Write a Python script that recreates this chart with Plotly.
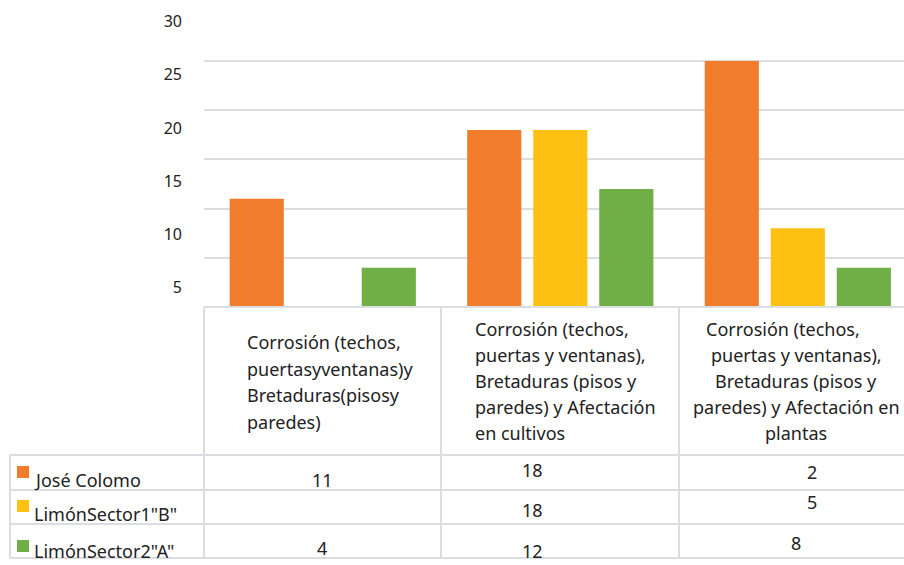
import plotly.graph_objects as go

# ---------------- data ----------------
categories = [
    "Corrosión (techos, puertasyventanas)y Bretaduras(pisosy paredes)",
    "Corrosión (techos, puertas y ventanas), Bretaduras (pisos y paredes) y Afectación en cultivos",
    "Corrosión (techos, puertas y ventanas), Bretaduras (pisos y paredes) y Afectación en plantas",
]
series_names = ["José Colomo", 'LimónSector1"B"', 'LimónSector2"A"']
jose_colomo = [11, 18, 25]
limon_sector1_b = [None, 18, 8]
limon_sector2_a = [4, 12, 4]
series_values = [jose_colomo, limon_sector1_b, limon_sector2_a]

# text shown in the data table (as printed in the original)
table_jose = ["11", "18", "2"]
table_s1 = ["", "18", "5"]
table_s2 = ["4", "12", "8"]

header_lines = [
    ["Corrosión (techos,", "puertasyventanas)y", "Bretaduras(pisosy", "paredes)"],
    ["Corrosión (techos,", "puertas y ventanas),", "Bretaduras (pisos y", "paredes) y Afectación", "en cultivos"],
    ["Corrosión (techos,", "puertas y ventanas),", "Bretaduras (pisos y", "paredes) y Afectación en", "plantas"],
]
grid_ticks = [5, 10, 15, 20, 25]
label_ticks = [5, 10, 15, 20, 25, 30]

colors = ["#F17C2B", "#FDC114", "#71AE46"]

# ---------------- layout geometry (pixels) ----------------
W, H = 904, 565
PL, PR, PT, PB = 204, 904, 10, 307
FONT = "Noto Sans"
GRID = "#DADEE3"
TXT = 18


def px(x):
    return (x - PL) / (PR - PL)


def py(y):
    return (PB - y) / (PB - PT)


fig = go.Figure()
for name, vals, col in zip(series_names, series_values, colors):
    fig.add_trace(go.Bar(x=categories, y=vals, name=name, marker_color=col,
                         marker_line_width=0, showlegend=False, hoverinfo="x+y+name"))

fig.update_layout(
    width=W, height=H, autosize=False,
    margin=dict(l=PL, r=W - PR, t=PT, b=H - PB, pad=0),
    paper_bgcolor="white", plot_bgcolor="white",
    barmode="group", bargap=0.166, bargroupgap=0.18,
    font=dict(family=FONT, color="#222222"),
    xaxis=dict(range=[-0.5, 2.447], showticklabels=False, showgrid=False,
               zeroline=False, showline=False, ticks=""),
    yaxis=dict(range=[0, (PB - PT) / 9.84], tickvals=grid_ticks, showticklabels=False,
               showgrid=True, gridcolor=GRID, gridwidth=2, zeroline=False, showline=False, ticks=""),
    yaxis2=dict(overlaying="y", side="left", range=[3.145, 31.11], tickvals=label_ticks,
                showgrid=False, zeroline=False, showline=False, ticks="",
                ticklabelstandoff=21, tickfont=dict(family=FONT, size=16, color="#222222")),
)
fig.add_trace(go.Scatter(x=[categories[0]], y=[None], yaxis="y2", showlegend=False,
                         hoverinfo="skip", mode="markers"))

shapes = []


def hline(y, x0, x1):
    shapes.append(dict(type="line", xref="paper", yref="paper", x0=px(x0), x1=px(x1),
                       y0=py(y), y1=py(y), line=dict(color=GRID, width=2)))


def vline(x, y0, y1):
    shapes.append(dict(type="line", xref="paper", yref="paper", x0=px(x), x1=px(x),
                       y0=py(y0), y1=py(y1), line=dict(color=GRID, width=2)))


hline(307, 204, 904)
for y in [455, 490, 524, 558]:
    hline(y, 10, 904)
for x in [204, 441, 679]:
    vline(x, 307, 558)
vline(10, 455, 558)

# legend keys
for (y0, y1), col in zip([(466, 478), (500, 512), (540, 552)], colors):
    shapes.append(dict(type="rect", xref="paper", yref="paper", x0=px(17), x1=px(29),
                       y0=py(y1), y1=py(y0), fillcolor=col, line=dict(width=0)))
fig.update_layout(shapes=shapes)

ann = []


def text(t, x, y, xanchor="center", size=TXT):
    ann.append(dict(text=t, x=px(x), y=py(y), xref="paper", yref="paper", showarrow=False,
                    xanchor=xanchor, yanchor="middle", font=dict(family=FONT, size=size, color="#222222")))


# header cells
for i, line in enumerate(header_lines[0]):
    text(line, 245, 342 + 26.5 * i, "left")
for i, line in enumerate(header_lines[1]):
    text(line, 473, 329 + 26 * i, "left")
for i, line in enumerate(header_lines[2]):
    text(line, 783 if i == 0 else 796, 329 + 26 * i, "center")

# legend labels
for name, y in zip(series_names, [480, 514, 551]):
    text(name, 32, y, "left")

# table values
value_pos = [
    [(322, 480), (532, 470), (812, 472)],
    [(322, 512), (532, 510), (812, 502)],
    [(322, 548), (532, 551), (796, 543)],
]
for row, pos in zip([table_jose, table_s1, table_s2], value_pos):
    for t, (x, y) in zip(row, pos):
        if t:
            text(t, x, y)

fig.update_layout(annotations=ann)
fig.write_html("out.html")
